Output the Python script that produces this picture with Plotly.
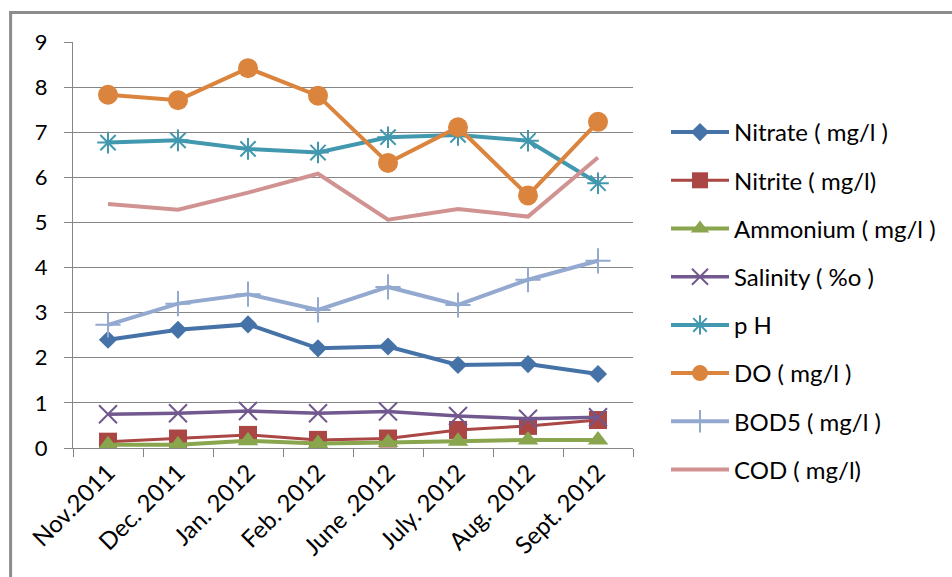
import plotly.graph_objects as go

months = ["Nov.2011", "Dec. 2011", "Jan. 2012", "Feb. 2012",
          "June .2012", "July. 2012", "Aug. 2012", "Sept. 2012"]

nitrate = [2.40, 2.62, 2.74, 2.21, 2.25, 1.84, 1.86, 1.64]
nitrite = [0.14, 0.21, 0.29, 0.18, 0.21, 0.40, 0.49, 0.62]
ammonium = [0.07, 0.07, 0.16, 0.10, 0.12, 0.15, 0.18, 0.18]
salinity = [0.75, 0.77, 0.82, 0.77, 0.81, 0.71, 0.65, 0.68]
ph = [6.77, 6.82, 6.63, 6.55, 6.89, 6.94, 6.81, 5.87]
do = [7.83, 7.71, 8.42, 7.81, 6.32, 7.11, 5.60, 7.23]
bod5 = [2.73, 3.20, 3.41, 3.06, 3.57, 3.17, 3.73, 4.15]
cod = [5.41, 5.28, 5.66, 6.08, 5.06, 5.30, 5.13, 6.44]

series = [
    ("Nitrate ( mg/l )", nitrate, "#4572A7", "diamond", 14, 4, 0),
    ("Nitrite ( mg/l)", nitrite, "#AA4643", "square", 18, 3, 0),
    ("Ammonium ( mg/l )", ammonium, "#89A54E", "triangle-up", 18, 4, 0),
    ("Salinity ( %o )", salinity, "#71588F", "x-thin-open", 18, 3.5, 2),
    ("p H", ph, "#4198AF", "asterisk-open", 18, 4, 2),
    ("DO ( mg/l )", do, "#DB843D", "circle", 20, 4, 0),
    ("BOD5 ( mg/l )", bod5, "#93A9CF", "cross-thin-open", 18, 4, 2),
    ("COD ( mg/l)", cod, "#D19392", None, 0, 4, 0),
]

FONT = "Lato, 'Open Sans', sans-serif"

fig = go.Figure()
for i, (name, vals, color, sym, size, lw, mlw) in enumerate(series):
    if sym is None:
        fig.add_trace(go.Scatter(
            x=months, y=vals, name=name, mode="lines",
            line=dict(color=color, width=lw), legendgroup=str(i)))
    else:
        fig.add_trace(go.Scatter(
            x=months, y=vals, name=name, mode="lines+markers",
            line=dict(color=color, width=lw),
            marker=dict(symbol=sym, size=size, color=color,
                        line=dict(color=color, width=mlw)),
            legendgroup=str(i)))

# plot area in pixels: x 73..634, y 42..448 on a 952x577 canvas
L, R, T, B = 73, 634, 42, 448
W, H = 952, 577


def px(x):
    return (x - L) / (R - L)


def py(y):
    return (B - y) / (B - T)


grid = "#868686"
fig.update_layout(
    width=W, height=H,
    margin=dict(l=L, r=W - R, t=T, b=H - B, pad=0),
    paper_bgcolor="white", plot_bgcolor="white",
    font=dict(family=FONT, color="#000000"),
    showlegend=True,
    legend=dict(
        x=px(666), y=py(110), xanchor="left", yanchor="top",
        font=dict(size=24, family=FONT, color="#000000"),
        tracegroupgap=14, itemwidth=58, bgcolor="rgba(0,0,0,0)",
    ),
    xaxis=dict(
        type="category", range=[-0.5, 7.5],
        showgrid=False, showline=True, linecolor=grid, linewidth=1,
        ticks="outside", ticklen=8, tickcolor=grid, tickson="boundaries",
        tickangle=-45, tickfont=dict(size=24, family=FONT),
        zeroline=False,
    ),
    yaxis=dict(
        range=[0, 9], dtick=1, tick0=0,
        showgrid=True, gridcolor=grid, gridwidth=1,
        showline=True, linecolor=grid, linewidth=1,
        ticks="outside", ticklen=8, tickcolor=grid,
        tickfont=dict(size=22, family=FONT), ticklabelstandoff=12,
        zeroline=False,
    ),
    shapes=[
        dict(type="line", xref="paper", yref="paper",
             x0=px(10.5), x1=px(10.5), y0=py(11), y1=py(600),
             line=dict(color="#8c8c8c", width=3)),
        dict(type="line", xref="paper", yref="paper",
             x0=px(9), x1=px(960), y0=py(12.5), y1=py(12.5),
             line=dict(color="#8c8c8c", width=3)),
    ],
)

fig.write_html("out.html")
